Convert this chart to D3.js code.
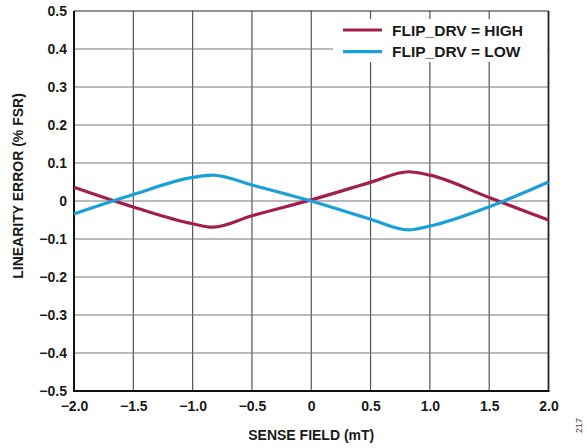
<!DOCTYPE html>
<html><head><meta charset="utf-8">
<script src="https://cdn.jsdelivr.net/npm/d3@7"></script>
<style>body{margin:0;background:#fff}</style>
</head><body>
<svg id="c" width="587" height="448"></svg>
<script>
const xTicks = [-2.0,-1.5,-1.0,-0.5,0,0.5,1.0,1.5,2.0];
const yTicks = [-0.5,-0.4,-0.3,-0.2,-0.1,0,0.1,0.2,0.3,0.4,0.5];
const fieldX = [-2.0,-1.5,-1.0,-0.83,-0.5,0,0.5,0.82,1.0,1.5,2.0];
const highY = [0.036,-0.016,-0.060,-0.069,-0.039,0.003,0.049,0.077,0.068,0.009,-0.050];
const lowY  = [-0.034,0.017,0.062,0.068,0.042,0.000,-0.048,-0.076,-0.066,-0.015,0.050];
const seriesNames = ["FLIP_DRV = HIGH","FLIP_DRV = LOW"];
const seriesColors = ["#a21e4b","#1a9fd9"];

const svg = d3.select("#c");
const L=74,R=548.5,T=11,B=391;
const x = d3.scaleLinear().domain([-2,2]).range([L,R]);
const y = d3.scaleLinear().domain([-0.5,0.5]).range([B,T]);
const fmt = v => (v<0?"\u2212":"") + (Math.abs(v)<1e-9 ? "0" : Math.abs(v).toFixed(1));
const fmtY = v => (Math.abs(v)<1e-9 ? "0" : (v<0?"\u2212":"") + Math.abs(v).toFixed(1));
const font = "'Liberation Sans', Arial, sans-serif";
const fs = "14px";

// grid
svg.append("g").selectAll("line").data(xTicks.slice(1,-1)).join("line")
  .attr("x1",d=>x(d)).attr("x2",d=>x(d)).attr("y1",T).attr("y2",B)
  .attr("stroke","#555").attr("stroke-width",1.2);
svg.append("g").selectAll("line").data(yTicks.slice(1,-1)).join("line")
  .attr("x1",L).attr("x2",R).attr("y1",d=>y(d)).attr("y2",d=>y(d))
  .attr("stroke","#777").attr("stroke-width",1.2);

// legend box (covers grid)
svg.append("rect").attr("x",333).attr("y",19).attr("width",R-333-1).attr("height",43).attr("fill","#fff");

// frame
svg.append("line").attr("x1",L).attr("x2",R).attr("y1",T).attr("y2",T).attr("stroke","#222").attr("stroke-width",1.2);
svg.append("line").attr("x1",R).attr("x2",R).attr("y1",T).attr("y2",B).attr("stroke","#222").attr("stroke-width",1.8);
svg.append("line").attr("x1",L).attr("x2",L).attr("y1",T).attr("y2",B+1).attr("stroke","#111").attr("stroke-width",2);
svg.append("line").attr("x1",L-1).attr("x2",R+1).attr("y1",B).attr("y2",B).attr("stroke","#111").attr("stroke-width",2);

// axes labels via d3 axes
const xa = svg.append("g").attr("transform",`translate(0,${B})`)
  .call(d3.axisBottom(x).tickValues(xTicks).tickFormat(fmt).tickSize(0).tickPadding(10));
const ya = svg.append("g").attr("transform",`translate(${L},0)`)
  .call(d3.axisLeft(y).tickValues(yTicks).tickFormat(fmtY).tickSize(0).tickPadding(7));
[xa,ya].forEach(g=>{g.select(".domain").remove();
  g.selectAll("text").attr("font-family",font).attr("font-weight","bold").attr("font-size",fs).attr("fill","#1a1a1a");});

// lines
const data = [highY, lowY];
const line = d3.line().x((d,i)=>x(fieldX[i])).y(d=>y(d)).curve(d3.curveMonotoneX);
data.forEach((s,k)=>{
  svg.append("path").attr("d",line(s)).attr("fill","none")
    .attr("stroke",seriesColors[k]).attr("stroke-width",3.2).attr("stroke-linejoin","round");
});

// legend
seriesNames.forEach((n,k)=>{
  const ly = 30 + k*21.7;
  svg.append("line").attr("x1",343).attr("x2",382).attr("y1",ly).attr("y2",ly)
    .attr("stroke",seriesColors[k]).attr("stroke-width",3.2);
  svg.append("text").attr("x",392).attr("y",ly+5.5).text(n)
    .attr("font-family",font).attr("font-weight","bold").attr("font-size","15.5px").attr("fill","#1a1a1a");
});

// titles
svg.append("text").attr("x",(L+R)/2).attr("y",440).attr("text-anchor","middle").text("SENSE FIELD (mT)")
  .attr("font-family",font).attr("font-weight","bold").attr("font-size",fs).attr("fill","#1a1a1a");
svg.append("text").attr("transform",`translate(23,186) rotate(-90)`).attr("text-anchor","middle")
  .text("LINEARITY ERROR (% FSR)")
  .attr("font-family",font).attr("font-weight","bold").attr("font-size",fs).attr("fill","#1a1a1a");
svg.append("text").attr("transform","translate(582,433) rotate(-90)").text("217")
  .attr("font-family",font).attr("font-size","9px").attr("fill","#444");
</script>
</body></html>
